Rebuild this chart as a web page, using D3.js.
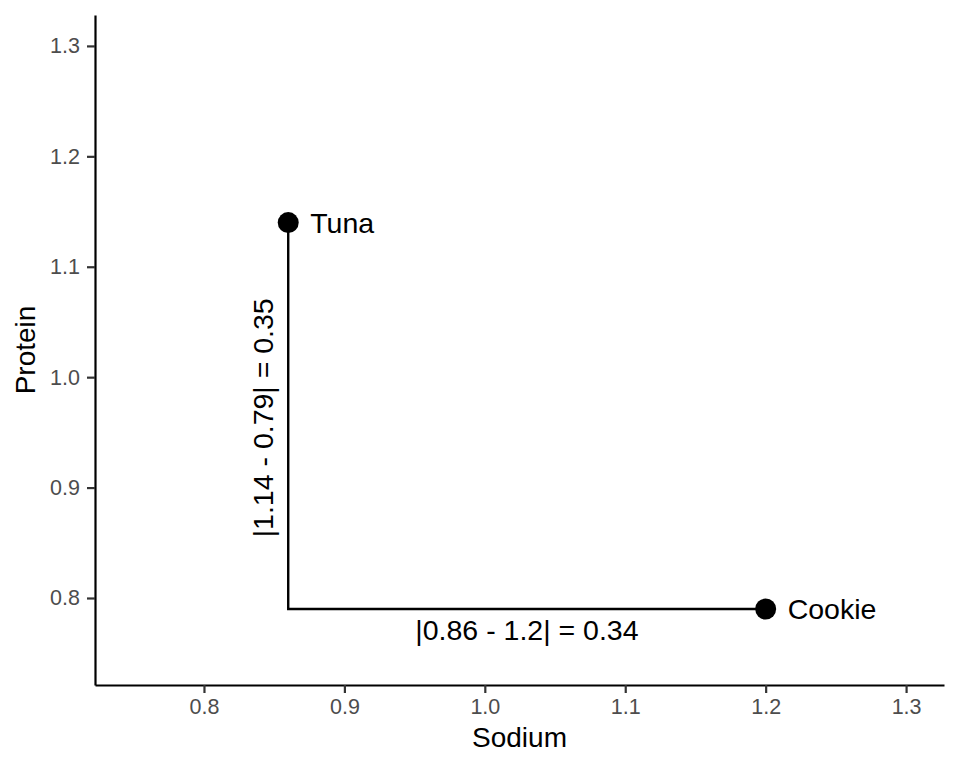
<!DOCTYPE html>
<html>
<head>
<meta charset="utf-8">
<script src="https://cdn.jsdelivr.net/npm/d3@7"></script>
<style>
  body { margin: 0; background: #fff; }
  text { font-family: "Liberation Sans", Arial, sans-serif; }
</style>
</head>
<body>
<svg id="chart" width="960" height="768"></svg>
<script>
// data
var foods = ['Tuna', 'Cookie'];
var sodium = [0.86, 1.2];
var protein = [1.14, 0.79];
var xTicks = [0.8, 0.9, 1.0, 1.1, 1.2, 1.3];
var yTicks = [0.8, 0.9, 1.0, 1.1, 1.2, 1.3];

var svg = d3.select('#chart');
var width = 960, height = 768;
var margins = { top: 15, right: 16, bottom: 83, left: 95 };

var x = d3.scaleLinear()
  .domain([0.7224, 1.327])
  .range([margins.left, width - margins.right]);
var y = d3.scaleLinear()
  .domain([0.7212, 1.328])
  .range([height - margins.bottom, margins.top]);

// axes
var xAxis = svg.append('g')
  .attr('transform', 'translate(0,' + (height - margins.bottom) + ')')
  .call(d3.axisBottom(x).tickValues(xTicks).tickFormat(d3.format('.1f'))
    .tickSizeOuter(0).tickSizeInner(8).tickPadding(6));
var yAxis = svg.append('g')
  .attr('transform', 'translate(' + margins.left + ',0)')
  .call(d3.axisLeft(y).tickValues(yTicks).tickFormat(d3.format('.1f'))
    .tickSizeOuter(0).tickSizeInner(8).tickPadding(7));

[xAxis, yAxis].forEach(function(a) {
  a.select('.domain').attr('stroke', '#000').attr('stroke-width', 2.2);
  a.selectAll('.tick line').attr('stroke', '#333').attr('stroke-width', 2.2);
  a.selectAll('.tick text')
    .attr('fill', '#4d4d4d')
    .style('font-size', '21.5px')
    .style('font-family', '"Liberation Sans", Arial, sans-serif');
});

// axis titles
svg.append('text')
  .attr('x', (margins.left + width - margins.right) / 2)
  .attr('y', 747)
  .attr('text-anchor', 'middle')
  .style('font-size', '28px')
  .text('Sodium');
svg.append('text')
  .attr('transform', 'translate(35,' + ((margins.top + height - margins.bottom) / 2) + ') rotate(-90)')
  .attr('text-anchor', 'middle')
  .style('font-size', '28px')
  .text('Protein');

// distance segments (Tuna down to Cookie's protein, then across to Cookie)
svg.append('path')
  .attr('d', 'M' + x(sodium[0]) + ',' + y(protein[0]) +
    'L' + x(sodium[0]) + ',' + y(protein[1]) +
    'L' + x(sodium[1]) + ',' + y(protein[1]))
  .attr('fill', 'none')
  .attr('stroke', '#000')
  .attr('stroke-width', 2.4);

// segment labels
var dy = Math.abs(protein[0] - protein[1]);
var dx = Math.abs(sodium[0] - sodium[1]);
svg.append('text')
  .attr('transform', 'translate(' + (x(sodium[0]) - 15) + ',' + (y((protein[0] + protein[1]) / 2) + 2) + ') rotate(-90)')
  .attr('text-anchor', 'middle')
  .style('font-size', '28.5px')
  .text('|' + protein[0] + ' - ' + protein[1] + '| = ' + dy.toFixed(2));
svg.append('text')
  .attr('x', x((sodium[0] + sodium[1]) / 2))
  .attr('y', y(protein[1]) + 31)
  .attr('text-anchor', 'middle')
  .style('font-size', '28.5px')
  .text('|' + sodium[0] + ' - ' + sodium[1] + '| = ' + dx.toFixed(2));

// points
svg.selectAll('circle.pt')
  .data(foods)
  .enter()
  .append('circle')
  .attr('class', 'pt')
  .attr('cx', function(d, i) { return x(sodium[i]); })
  .attr('cy', function(d, i) { return y(protein[i]); })
  .attr('r', 10.5)
  .attr('fill', '#000');

svg.selectAll('text.lab')
  .data(foods)
  .enter()
  .append('text')
  .attr('class', 'lab')
  .attr('x', function(d, i) { return x(sodium[i]) + 22; })
  .attr('y', function(d, i) { return y(protein[i]); })
  .attr('dy', '0.35em')
  .style('font-size', '28.5px')
  .text(function(d) { return d; });
</script>
</body>
</html>
